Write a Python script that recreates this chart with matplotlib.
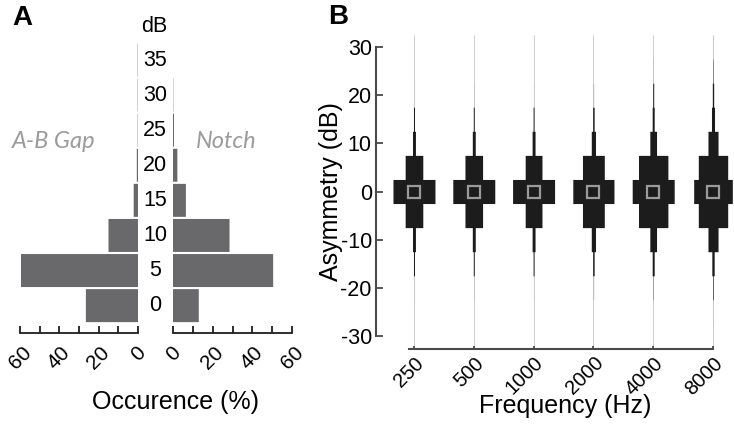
import matplotlib
matplotlib.use('Agg')
import matplotlib.pyplot as plt
import matplotlib.transforms as mtransforms
import numpy as np

# Panel A: occurrence (%) of threshold per dB level
db_levels = [0, 5, 10, 15, 20, 25, 30, 35]
gap_pct = [26.5, 59.5, 15.0, 2.2, 0.6, 0.15, 0.15, 0.15]
notch_pct = [13.0, 50.5, 28.5, 6.5, 2.2, 0.5, 0.15, 0.0]
occ_ticks = [0, 10, 20, 30, 40, 50, 60]
occ_labels = ['0', '', '20', '', '40', '', '60']

# Panel B: asymmetry histograms (relative width per 5 dB bin) per frequency
freq_labels = ['250', '500', '1000', '2000', '4000', '8000']
asym_bins = [-30, -25, -20, -15, -10, -5, 0, 5, 10, 15, 20, 25, 30]
asym_250 = [0.25, 0.25, 0.3, 1.2, 3.5, 21, 50, 21, 3.5, 1.2, 0.3, 0.25, 0.25]
asym_500 = [0.25, 0.25, 0.3, 1.2, 3.5, 21, 50, 21, 3.5, 1.2, 0.3, 0.25, 0.25]
asym_1000 = [0.25, 0.25, 0.3, 1.2, 3.5, 20, 50, 20, 3.5, 1.2, 0.3, 0.25, 0.25]
asym_2000 = [0.25, 0.25, 0.4, 1.8, 5, 26, 49, 26, 5, 1.8, 0.4, 0.25, 0.25]
asym_4000 = [0.25, 0.25, 0.5, 2.4, 8, 35, 50, 35, 8, 2.4, 1.2, 0.3, 0.25]
asym_8000 = [0.25, 0.3, 0.8, 2.8, 12, 35, 46, 35, 12, 3.6, 1.6, 0.6, 0.3]
asym_median = [0, 0, 0, 0, 0, 0]
asym_ticks = [-30, -20, -10, 0, 10, 20, 30]

plt.rcParams['font.family'] = ['Liberation Sans', 'DejaVu Sans']
plt.rcParams['axes.unicode_minus'] = False

W, H = 734.0, 424.0
BAR_GREY = '#69696c'
AX_DARK = '#1e1e1e'
HIST_BLACK = '#1c1c1c'
WIDTH_SCALE = 0.01404   # x units per % of bin width
BIN_W = 5.0

fig = plt.figure(figsize=(W / 100, H / 100), dpi=100)


def style_occ_axis(ax):
    for s in ['left', 'right', 'top']:
        ax.spines[s].set_visible(False)
    ax.spines['bottom'].set_color(AX_DARK)
    ax.spines['bottom'].set_linewidth(1.3)
    ax.set_yticks([])
    ax.set_xticks(occ_ticks)
    ax.set_xticklabels(occ_labels, rotation=45, ha='center', va='top')
    ax.tick_params(axis='x', direction='in', length=5, width=1.3,
                   color=AX_DARK, labelsize=15, pad=7)
    ax.set_ylim(-3.9, 37.85)
    ax.patch.set_visible(False)


# --- Panel A ---
ax_gap = fig.add_axes([20 / W, 1 - 333 / H, 118 / W, 293 / H])
ax_gap.barh(db_levels, gap_pct, height=4.7, color=BAR_GREY, linewidth=0, snap=False)
ax_gap.set_xlim(60, 0)
style_occ_axis(ax_gap)

ax_notch = fig.add_axes([173 / W, 1 - 333 / H, 119 / W, 293 / H])
ax_notch.barh(db_levels, notch_pct, height=4.7, color=BAR_GREY, linewidth=0, snap=False)
ax_notch.set_xlim(0, 60)
style_occ_axis(ax_notch)

trans = mtransforms.blended_transform_factory(fig.transFigure, ax_gap.transData)
for d in db_levels:
    ax_gap.text(155 / W, d, str(d), transform=trans, ha='center', va='center',
                fontsize=15.5, clip_on=False)

fig.text(154 / W, 1 - 27 / H, 'dB', ha='center', va='center', fontsize=15.5)
fig.text(54 / W, 1 - 142 / H, 'A-B Gap', ha='center', va='center', fontsize=17,
         color='#9b9b9b', style='italic', family=['Lato', 'DejaVu Sans'])
fig.text(226 / W, 1 - 142 / H, 'Notch', ha='center', va='center', fontsize=17,
         color='#9b9b9b', style='italic', family=['Lato', 'DejaVu Sans'])
fig.text(176 / W, 1 - 402 / H, 'Occurence (%)', ha='center', va='center', fontsize=18)

# --- Panel B ---
ax_b = fig.add_axes([376 / W, 1 - 336 / H, 337 / W, 289 / H])
xpos = np.arange(1, 7)
asym_widths = [asym_250, asym_500, asym_1000, asym_2000, asym_4000, asym_8000]
bins = np.array(asym_bins, dtype=float)
y_edges = np.column_stack([bins - BIN_W / 2, bins + BIN_W / 2]).ravel()
for x, widths in zip(xpos, asym_widths):
    half = np.repeat(np.array(widths) * WIDTH_SCALE / 2, 2)
    poly = ax_b.fill_betweenx(y_edges, x - half, x + half, color=HIST_BLACK,
                              linewidth=0, clip_on=False, antialiased=True)
    poly.set_snap(False)
ax_b.plot(xpos, asym_median, 's', ms=8, mfc=HIST_BLACK, mec='#9a9a9a', mew=1.6,
          linestyle='none', zorder=3, clip_on=False)

ax_b.set_xlim(0.365, 6.0)
ax_b.set_ylim(-30, 30)
ax_b.spines['top'].set_visible(False)
ax_b.spines['right'].set_visible(False)
for s in ['left', 'bottom']:
    ax_b.spines[s].set_color('#4a4a4a')
    ax_b.spines[s].set_linewidth(1.5)
ax_b.spines['bottom'].set_position(('outward', 9))
ax_b.spines['bottom'].set_bounds(0.92, 6.0)
ax_b.set_yticks(asym_ticks)
ax_b.set_xticks(xpos)
ax_b.set_xticklabels(freq_labels, rotation=45, ha='right', va='top',
                     rotation_mode='anchor')
ax_b.tick_params(axis='y', direction='in', length=5, width=1.3, color='#4a4a4a',
                 labelsize=15.5, pad=3)
ax_b.tick_params(axis='x', direction='in', length=2.5, width=1.3, color='#4a4a4a',
                 labelsize=14.5, pad=3.5)
ax_b.set_ylabel('Asymmetry (dB)', fontsize=18)
ax_b.yaxis.set_label_coords(-0.098, 0.5)
ax_b.set_xlabel('Frequency (Hz)', fontsize=18)
ax_b.xaxis.set_label_coords(0.561, -0.2)
ax_b.patch.set_visible(False)

fig.text(12 / W, 1 - 18 / H, 'A', fontsize=20, fontweight='bold', ha='left', va='center')
fig.text(328 / W, 1 - 17 / H, 'B', fontsize=20, fontweight='bold', ha='left', va='center')

fig.savefig('out.png', dpi=100)
